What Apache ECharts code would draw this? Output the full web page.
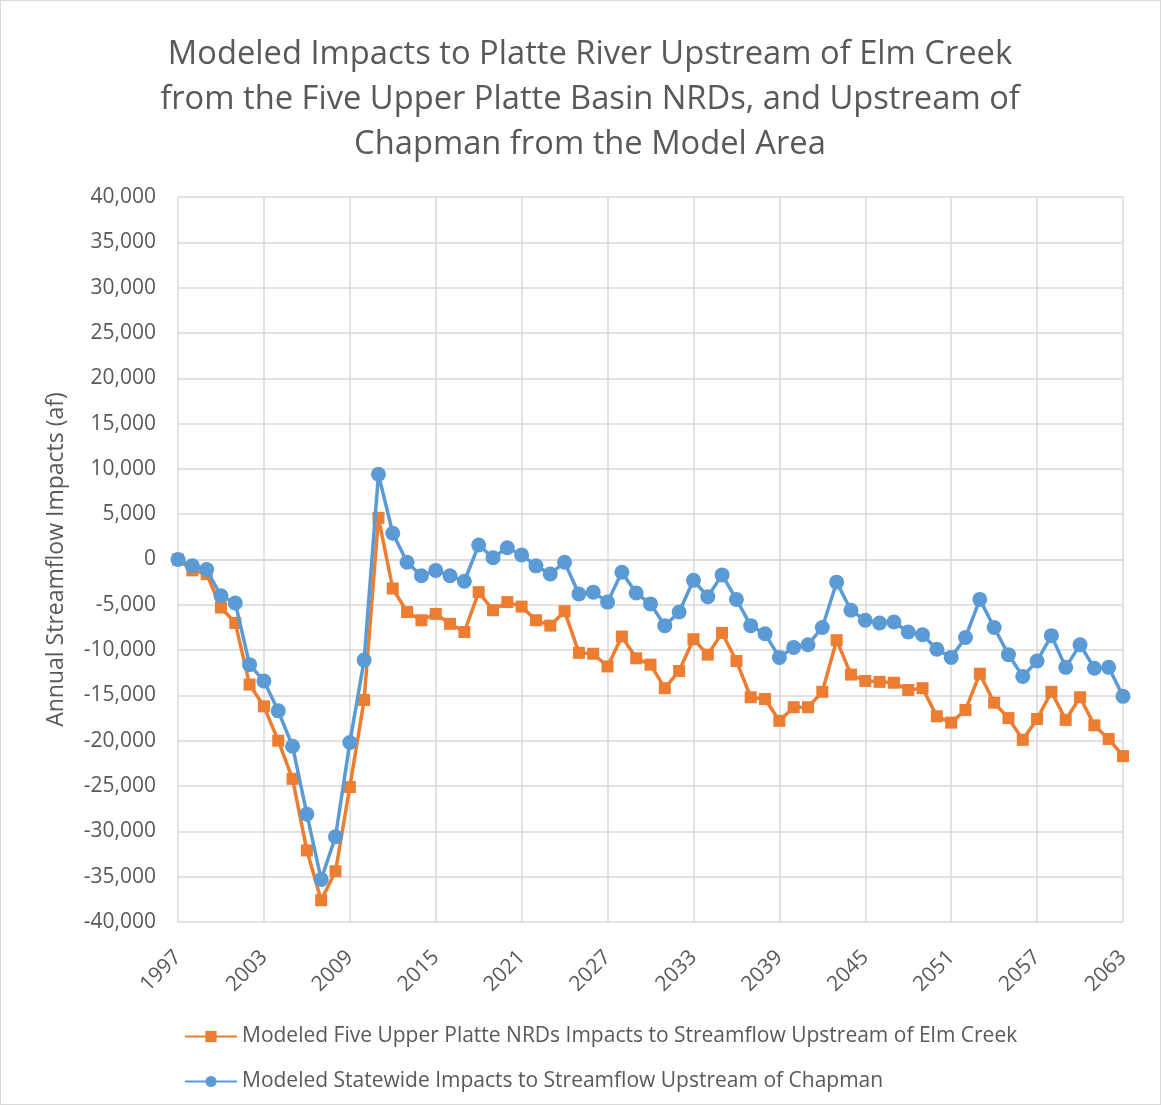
<!DOCTYPE html>
<html>
<head>
<meta charset="utf-8">
<script src="https://cdn.jsdelivr.net/npm/echarts@6/dist/echarts.min.js"></script>
<style>
  html, body { margin: 0; padding: 0; background: #fff; }
  #main { width: 1159px; height: 1103px; border: 1px solid #d9d9d9; }
</style>
</head>
<body>
<div id="main"></div>
<script>
// years 1997 - 2063
const years = [];
for (let y = 1997; y <= 2063; y++) years.push(String(y));

// Modeled Five Upper Platte NRDs impacts (af)
const elmCreek = [
  0, -1200, -1600, -5300, -7000, -13800, -16200, -20000, -24200, -32100,
  -37600, -34400, -25100, -15500, 4600, -3200, -5800, -6700, -6000, -7100,
  -8000, -3600, -5600, -4700, -5200, -6700, -7300, -5700, -10300, -10400,
  -11800, -8500, -10900, -11600, -14200, -12300, -8800, -10500, -8100, -11200,
  -15200, -15400, -17800, -16300, -16300, -14600, -8900, -12700, -13400, -13500,
  -13600, -14400, -14200, -17300, -18000, -16600, -12600, -15800, -17500, -19900,
  -17600, -14600, -17700, -15200, -18300, -19800, -21700
];

// Modeled statewide impacts (af)
const chapman = [
  0, -700, -1100, -4000, -4800, -11600, -13400, -16700, -20600, -28100,
  -35300, -30600, -20200, -11100, 9400, 2900, -300, -1800, -1200, -1800,
  -2400, 1600, 200, 1300, 500, -700, -1600, -300, -3800, -3600,
  -4700, -1400, -3700, -4900, -7300, -5800, -2300, -4100, -1700, -4400,
  -7300, -8200, -10800, -9700, -9400, -7500, -2500, -5600, -6700, -7000,
  -6900, -8000, -8300, -9900, -10800, -8600, -4400, -7500, -10500, -12900,
  -11200, -8400, -11900, -9400, -12000, -11900, -15100
];

const txt = '#595959';
const font = 'Open Sans';

const chart = echarts.init(document.getElementById('main'));
chart.setOption({
  animation: false,
  title: {
    text: 'Modeled Impacts to Platte River Upstream of Elm Creek\nfrom the Five Upper Platte Basin NRDs, and Upstream of\nChapman from the Model Area',
    left: 584,
    top: 26,
    textAlign: 'center',
    textStyle: {
      color: txt, fontFamily: font, fontWeight: 'normal',
      fontSize: 32.7, lineHeight: 45, align: 'center'
    }
  },
  grid: { left: 177, right: 37, top: 196, bottom: 182 },
  legend: {
    orient: 'vertical',
    left: 178,
    top: 1020,
    itemWidth: 52,
    itemHeight: 14,
    itemGap: 24,
    textStyle: { color: txt, fontFamily: font, fontSize: 21 },
    data: [
      'Modeled Five Upper Platte NRDs Impacts to Streamflow Upstream of Elm Creek',
      'Modeled Statewide Impacts to Streamflow Upstream of Chapman'
    ]
  },
  xAxis: {
    type: 'category',
    data: years,
    boundaryGap: false,
    axisLine: { lineStyle: { color: '#d9d9d9', width: 1.5 } },
    axisTick: { show: false },
    axisLabel: {
      interval: 5, rotate: 45, color: txt, fontFamily: font, fontSize: 21, margin: 32
    },
    splitLine: { show: true, interval: 5, lineStyle: { color: '#d9d9d9', width: 1.5 } }
  },
  yAxis: {
    type: 'value',
    min: -40000,
    max: 40000,
    interval: 5000,
    name: 'Annual Streamflow Impacts (af)',
    nameLocation: 'middle',
    nameGap: 110,
    nameTextStyle: { color: txt, fontFamily: font, fontSize: 23 },
    axisLine: { show: false },
    axisTick: { show: false },
    axisLabel: {
      color: txt, fontFamily: font, fontSize: 21, margin: 22,
      formatter: v => v.toLocaleString('en-US')
    },
    splitLine: { lineStyle: { color: '#d9d9d9', width: 1.5 } }
  },
  series: [
    {
      name: 'Modeled Five Upper Platte NRDs Impacts to Streamflow Upstream of Elm Creek',
      type: 'line',
      data: elmCreek,
      color: '#ED7D31',
      symbol: 'rect',
      symbolSize: 12,
      showAllSymbol: true,
      lineStyle: { width: 3.5 },
      z: 2
    },
    {
      name: 'Modeled Statewide Impacts to Streamflow Upstream of Chapman',
      type: 'line',
      data: chapman,
      color: '#5B9BD5',
      symbol: 'circle',
      symbolSize: 15,
      showAllSymbol: true,
      lineStyle: { width: 3.5 },
      z: 3
    }
  ]
});
</script>
</body>
</html>
